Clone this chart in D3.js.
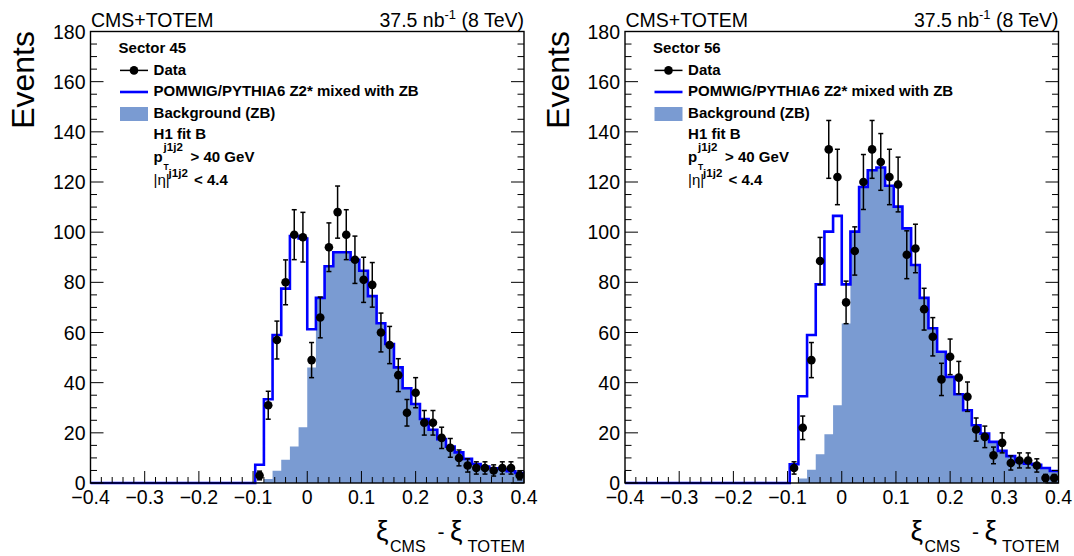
<!DOCTYPE html>
<html lang="en">
<head>
<meta charset="UTF-8">
<title>xi CMS - xi TOTEM</title>
<script src="https://d3js.org/d3.v7.min.js"></script>
<style>
  body { margin: 0; background: #fff; }
  text { font-family: "Liberation Sans", Arial, sans-serif; fill: #000; }
</style>
</head>
<body>
<svg id="chart"></svg>
<script>
// histogram bin edges (50 bins, width 0.016)
var binEdges = [-0.4, -0.384, -0.368, -0.352, -0.336, -0.32, -0.304, -0.288, -0.272, -0.256,
  -0.24, -0.224, -0.208, -0.192, -0.176, -0.16, -0.144, -0.128, -0.112, -0.096,
  -0.08, -0.064, -0.048, -0.032, -0.016, 0, 0.016, 0.032, 0.048, 0.064,
  0.08, 0.096, 0.112, 0.128, 0.144, 0.16, 0.176, 0.192, 0.208, 0.224,
  0.24, 0.256, 0.272, 0.288, 0.304, 0.32, 0.336, 0.352, 0.368, 0.384, 0.4];

var xTicks = [-0.4, -0.3, -0.2, -0.1, 0, 0.1, 0.2, 0.3, 0.4];
var yTicks = [0, 20, 40, 60, 80, 100, 120, 140, 160, 180];

// sector 45
var s45Total = [0,0,0,0,0,0,0,0,0,0, 0,0,0,0,0,0,0,0,0,7.3,
  33.4, 59, 77.5, 98.5, 97.5, 61.3, 73.8, 86.4, 92, 92,
  89, 84.6, 74.5, 63.7, 55.4, 46.1, 37.8, 31.5, 25.5, 21.2,
  17.5, 14.5, 12.2, 9.6, 7.6, 6.6, 5.9, 5.6, 4.7, 4.0];
var s45Bg = [0,0,0,0,0,0,0,0,0,0, 0,0,0,0,0,0,0,0,0,0.3,
  1.6, 4.9, 9.3, 14.6, 22.2, 46, 73.8, 86.4, 92, 92,
  89, 84.6, 74.5, 63.7, 55.4, 46.1, 37.8, 31.5, 25.5, 21.2,
  17.5, 14.5, 12.2, 9.6, 7.6, 6.6, 5.9, 5.6, 4.7, 4.0];
var s45Data = [0,0,0,0,0,0,0,0,0,0, 0,0,0,0,0,0,0,0,0,3,
  31, 57, 80, 99, 98, 49, 66, 94, 108, 99,
  89, 81, 79, 60, 55, 43, 28, 36, 24, 24,
  18, 14, 10, 7, 6, 6, 5, 6, 6, 3];

// sector 56
var s56Total = [0,0,0,0,0,0,0,0,0,0, 0,0,0,0,0,0,0,0,0,7.5,
  34.6, 59, 79.2, 100.2, 106.5, 79.2, 100.2, 118, 124.7, 125.8,
  118.5, 110.2, 101.5, 86.9, 73.8, 61.7, 52.3, 42.3, 35.4, 29,
  23, 19.7, 16.4, 12.8, 10.7, 8.4, 7.7, 7.3, 6, 4.8];
var s56Bg = [0,0,0,0,0,0,0,0,0,0, 0,0,0,0,0,0,0,0,0,0,
  1.8, 5.3, 11.5, 19.4, 31, 63.6, 100.2, 118, 124.7, 125.8,
  118.5, 110.2, 101.5, 86.9, 73.8, 61.7, 52.3, 42.3, 35.4, 29,
  23, 19.7, 16.4, 12.8, 10.7, 8.4, 7.7, 7.3, 6, 4.8];
var s56Data = [0,0,0,0,0,0,0,0,0,0, 0,0,0,0,0,0,0,0,0,6,
  22, 49, 88.5, 133, 122, 72, 92.5, 120, 133, 128,
  122, 119, 91, 93.5, 69.3, 58.3, 41.3, 50.3, 42, 34.4,
  21.3, 18.4, 11, 16, 8, 9, 9, 7, 2, 2];

var svg = d3.select('#chart').attr('width', 1074).attr('height', 556);

var bgColor = '#7a9bd2', mcColor = '#0000ff';

function drawPanel(sector, total, bg, data, ox) {
    var left = 90.5 + ox, right = 524 + ox, top = 31.5, bottom = 483;
    var x = d3.scaleLinear().domain([-0.4, 0.4]).range([left, right]);
    var y = d3.scaleLinear().domain([0, 180]).range([bottom, top]);
    var g = svg.append('g');

    var stepPts = function(vals) {
        return binEdges.map(function(e, i) { return [e, vals[Math.min(i, vals.length - 1)]]; });
    };

    // background fill
    var area = d3.area().curve(d3.curveStepAfter)
        .x(function(d) { return x(d[0]); })
        .y0(y(0))
        .y1(function(d) { return y(d[1]); });
    g.append('path').datum(stepPts(bg)).attr('d', area).attr('fill', bgColor);

    // mc + zb line
    var line = d3.line().curve(d3.curveStepAfter)
        .x(function(d) { return x(d[0]); })
        .y(function(d) { return y(d[1]); });
    g.append('path').datum(stepPts(total)).attr('d', line)
        .attr('fill', 'none').attr('stroke', mcColor).attr('stroke-width', 2.6);

    // frame + ticks
    g.append('rect').attr('x', left).attr('y', top).attr('width', right - left).attr('height', bottom - top)
        .attr('fill', 'none').attr('stroke', '#000').attr('stroke-width', 1.4);

    d3.range(0, 181, 5).forEach(function(v) {
        var len = v % 20 === 0 ? 13 : 6.5;
        g.append('line').attr('x1', left).attr('x2', left + len).attr('y1', y(v)).attr('y2', y(v))
            .attr('stroke', '#000').attr('stroke-width', 1);
        g.append('line').attr('x1', right).attr('x2', right - len).attr('y1', y(v)).attr('y2', y(v))
            .attr('stroke', '#000').attr('stroke-width', 1);
    });
    d3.range(-40, 41, 2).forEach(function(k) {
        var len = k % 10 === 0 ? 12 : 6;
        g.append('line').attr('x1', x(k / 100)).attr('x2', x(k / 100)).attr('y1', bottom).attr('y2', bottom - len)
            .attr('stroke', '#000').attr('stroke-width', 1);
    });

    yTicks.forEach(function(v) {
        g.append('text').attr('x', left - 5).attr('y', y(v) + 7).attr('text-anchor', 'end')
            .attr('font-size', 19.5).text(v);
    });
    xTicks.forEach(function(v) {
        var lab = v === 0 ? '0' : (v < 0 ? '\u2212' + Math.abs(v).toFixed(1) : v.toFixed(1));
        g.append('text').attr('x', x(v)).attr('y', 504).attr('text-anchor', 'middle')
            .attr('font-size', 19.5).text(lab);
    });

    // data points with poisson errors
    var pts = data.map(function(v, i) { return { c: (binEdges[i] + binEdges[i + 1]) / 2, v: v }; })
        .filter(function(d) { return d.v > 0; });
    var dp = g.append('g');
    pts.forEach(function(d) {
        var e = Math.sqrt(d.v), cx = x(d.c);
        dp.append('line').attr('x1', cx).attr('x2', cx).attr('y1', y(d.v - e)).attr('y2', y(d.v + e))
            .attr('stroke', '#000').attr('stroke-width', 1.5);
        [d.v - e, d.v + e].forEach(function(t) {
            dp.append('line').attr('x1', cx - 2.5).attr('x2', cx + 2.5).attr('y1', y(t)).attr('y2', y(t))
                .attr('stroke', '#000').attr('stroke-width', 1.5);
        });
        dp.append('circle').attr('cx', cx).attr('cy', y(d.v)).attr('r', 4.3).attr('fill', '#000');
    });

    // titles
    g.append('text').attr('x', left + 0.5).attr('y', 26.5).attr('font-size', 19.5).text('CMS+TOTEM');
    var lumi = g.append('text').attr('x', right).attr('y', 26.5).attr('text-anchor', 'end').attr('font-size', 19.5);
    lumi.append('tspan').text('37.5 nb');
    lumi.append('tspan').attr('font-size', 13).attr('dy', -8).text('-1');
    lumi.append('tspan').attr('dy', 8).text(' (8 TeV)');

    g.append('text').attr('transform', 'translate(' + (34 + ox) + ',31) rotate(-90)')
        .attr('text-anchor', 'end').attr('font-size', 32).text('Events');

    // x title: xi_CMS - xi_TOTEM
    var tx = function(t, px, py, fs) {
        return g.append('text').attr('x', px + ox).attr('y', py).attr('font-size', fs).text(t);
    };
    tx('\u03be', 376, 540, 28);
    tx('CMS', 390, 552, 16);
    tx('-', 437.5, 539, 21);
    tx('\u03be', 450, 540, 28);
    g.append('text').attr('x', right + 1).attr('y', 552).attr('text-anchor', 'end')
        .attr('font-size', 16.5).text('TOTEM');

    // legend
    var lx = 153.6 + ox, mx = 134 + ox;
    var bold = function(t, px, py, fs) {
        return g.append('text').attr('x', px).attr('y', py).attr('font-size', fs || 15)
            .attr('font-weight', 'bold').text(t);
    };
    bold(sector, 118.6 + ox, 53.3);
    g.append('line').attr('x1', mx - 14).attr('x2', mx + 14).attr('y1', 70.4).attr('y2', 70.4)
        .attr('stroke', '#000').attr('stroke-width', 1.5);
    g.append('circle').attr('cx', mx).attr('cy', 70.4).attr('r', 4.3).attr('fill', '#000');
    bold('Data', lx, 74.8);
    g.append('line').attr('x1', mx - 14).attr('x2', mx + 14).attr('y1', 92).attr('y2', 92)
        .attr('stroke', mcColor).attr('stroke-width', 2.6);
    bold('POMWIG/PYTHIA6 Z2* mixed with ZB', lx, 96.3);
    g.append('rect').attr('x', mx - 14).attr('y', 107).attr('width', 28).attr('height', 14).attr('fill', bgColor);
    bold('Background (ZB)', lx, 118);
    bold('H1 fit B', lx, 138.5);
    bold('p', lx, 161.5);
    bold('j1j2', lx + 10, 151, 11.5);
    bold('T', lx + 10, 169.5, 8.5);
    bold('> 40 GeV', lx + 37, 161.5);
    g.append('text').attr('x', lx).attr('y', 184.5).attr('font-size', 15).text('|\u03b7|');
    bold('j1j2', lx + 15, 176.5, 11.5);
    bold('< 4.4', lx + 40.5, 184.5);
}

drawPanel('Sector 45', s45Total, s45Bg, s45Data, 0);
drawPanel('Sector 56', s56Total, s56Bg, s56Data, 534.5);
</script>
</body>
</html>
